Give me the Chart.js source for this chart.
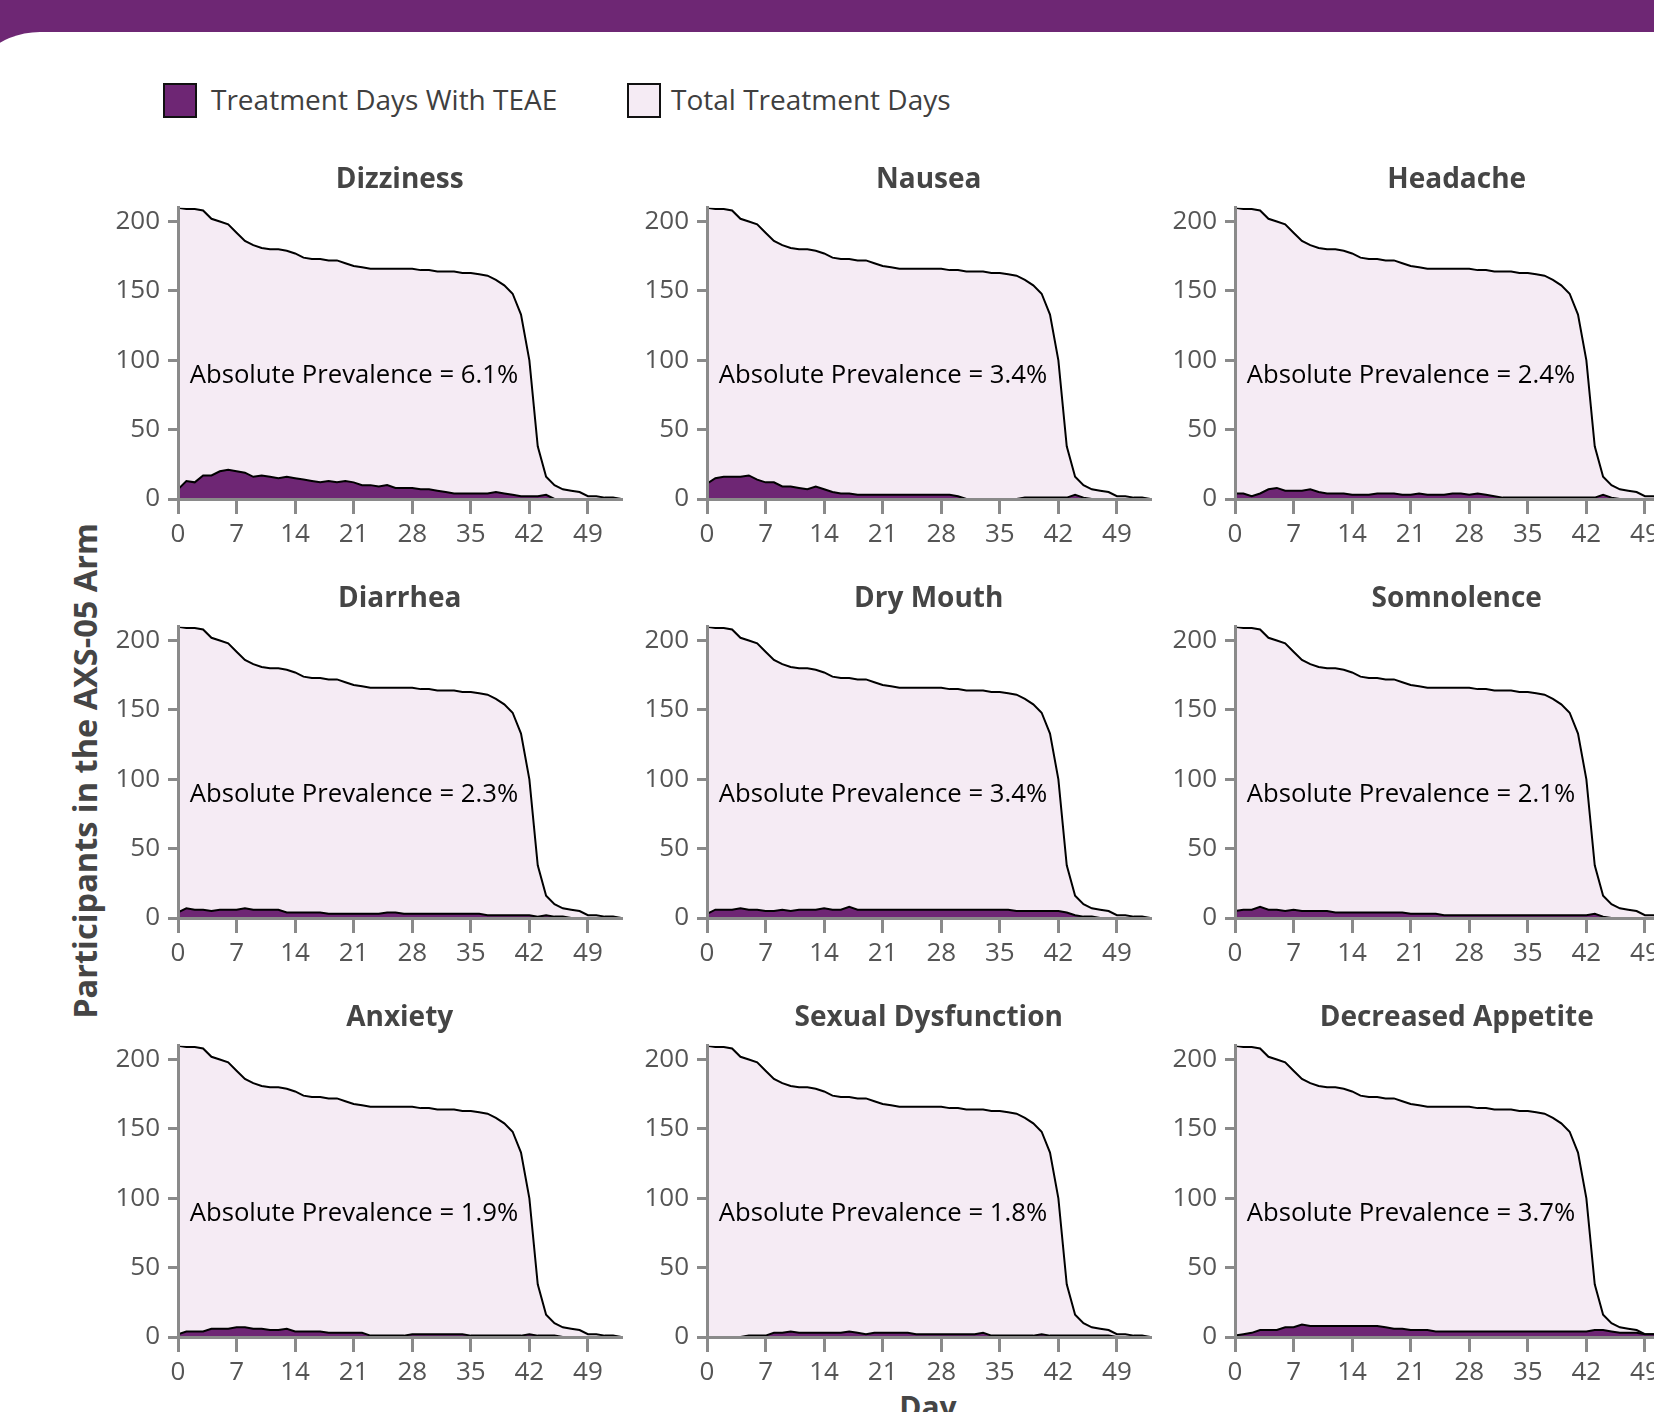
<!DOCTYPE html>
<html>
<head>
<meta charset="utf-8">
<script src="https://cdn.jsdelivr.net/npm/chart.js@4.4.1/dist/chart.umd.min.js"></script>
<style>
  body { margin: 0; width: 1654px; height: 1412px; overflow: hidden; position: relative; background: #6e2774; font-family: "Open Sans", sans-serif; }
  .sheet { position: absolute; left: -40px; top: 32px; width: 1760px; height: 1400px; background: #fff; border-top-left-radius: 80px; }
  .swatch { position: absolute; top: 83px; width: 34px; height: 35px; box-sizing: border-box; border: 2.5px solid #111; }
  .legend-text { position: absolute; top: 79px; font-size: 28px; line-height: 40px; color: #3f3f3f; white-space: nowrap; }
  .ytitle { position: absolute; left: 84px; top: 771px; transform: translate(-50%, -50%) rotate(-90deg); font-size: 32.5px; font-weight: 700; color: #454545; white-space: nowrap; }
  .xtitle { position: absolute; left: 928px; top: 1392px; transform: translateX(-50%); font-size: 30px; line-height: 30px; font-weight: 700; color: #454545; }
  canvas { position: absolute; }
</style>
</head>
<body>
<div class="sheet"></div>
<div class="swatch" style="left:163px; background:#6e2674;"></div>
<div class="legend-text" style="left:211px;">Treatment Days With TEAE</div>
<div class="swatch" style="left:627px; background:#f5ebf4;"></div>
<div class="legend-text" style="left:671px;">Total Treatment Days</div>
<div class="ytitle">Participants in the AXS-05 Arm</div>
<div class="xtitle">Day</div>

<script>
// data
const days = [0, 1, 2, 3, 4, 5, 6, 7, 8, 9, 10, 11, 12, 13, 14, 15, 16, 17, 18, 19, 20, 21, 22, 23, 24, 25, 26,
    27, 28, 29, 30, 31, 32, 33, 34, 35, 36, 37, 38, 39, 40, 41, 42, 43, 44, 45, 46, 47, 48, 49, 50, 51, 52, 53];
const dayTicks = [0, 7, 14, 21, 28, 35, 42, 49];
const countTicks = [0, 50, 100, 150, 200];

const totalDays = [210, 209, 209, 208, 202, 200, 198, 192, 186, 183, 181, 180, 180, 179, 177, 174, 173, 173,
    172, 172, 170, 168, 167, 166, 166, 166, 166, 166, 166, 165, 165, 164, 164, 164, 163, 163, 162, 161,
    158, 154, 148, 133, 100, 38, 16, 10, 7, 6, 5, 2, 2, 1, 1, 0];

const panelNames = ['Dizziness', 'Nausea', 'Headache', 'Diarrhea', 'Dry Mouth', 'Somnolence',
    'Anxiety', 'Sexual Dysfunction', 'Decreased Appetite'];
const prevalence = ['6.1%', '3.4%', '2.4%', '2.3%', '3.4%', '2.1%', '1.9%', '1.8%', '3.7%'];

const dizziness = [7, 13, 12, 17, 17, 20, 21, 20, 19, 16, 17, 16, 15, 16, 15, 14, 13, 12, 13, 12, 13, 12, 10, 10,
    9, 10, 8, 8, 8, 7, 7, 6, 5, 4, 4, 4, 4, 4, 5, 4, 3, 2, 2, 2, 3, 0, 0, 0, 0, 0, 0, 0, 0, 0];
const nausea = [11, 15, 16, 16, 16, 17, 14, 12, 12, 9, 9, 8, 7, 9, 7, 5, 4, 4, 3, 3, 3, 3, 3, 3, 3, 3, 3, 3,
    3, 3, 2, 0, 0, 0, 0, 0, 0, 0, 1, 1, 1, 1, 1, 1, 3, 1, 0, 0, 0, 0, 0, 0, 0, 0];
const headache = [4, 4, 2, 4, 7, 8, 6, 6, 6, 7, 5, 4, 4, 4, 3, 3, 3, 4, 4, 4, 3, 3, 4, 3, 3, 3, 4, 4, 3, 4,
    3, 2, 1, 1, 1, 1, 1, 1, 1, 1, 1, 1, 1, 1, 3, 1, 0, 0, 0, 0, 0, 0, 0, 0];
const diarrhea = [4, 7, 6, 6, 5, 6, 6, 6, 7, 6, 6, 6, 6, 4, 4, 4, 4, 4, 3, 3, 3, 3, 3, 3, 3, 4, 4, 3, 3, 3,
    3, 3, 3, 3, 3, 3, 3, 2, 2, 2, 2, 2, 2, 1, 2, 1, 1, 0, 0, 0, 0, 0, 0, 0];
const dryMouth = [3, 6, 6, 6, 7, 6, 6, 5, 5, 6, 5, 6, 6, 6, 7, 6, 6, 8, 6, 6, 6, 6, 6, 6, 6, 6, 6, 6, 6, 6,
    6, 6, 6, 6, 6, 6, 6, 5, 5, 5, 5, 5, 5, 4, 2, 1, 1, 0, 0, 0, 0, 0, 0, 0];
const somnolence = [5, 6, 6, 8, 6, 6, 5, 6, 5, 5, 5, 5, 4, 4, 4, 4, 4, 4, 4, 4, 4, 3, 3, 3, 3, 2, 2, 2, 2, 2,
    2, 2, 2, 2, 2, 2, 2, 2, 2, 2, 2, 2, 2, 3, 1, 0, 0, 0, 0, 0, 0, 0, 0, 0];
const anxiety = [2, 4, 4, 4, 6, 6, 6, 7, 7, 6, 6, 5, 5, 6, 4, 4, 4, 4, 3, 3, 3, 3, 3, 1, 1, 1, 1, 1, 2, 2,
    2, 2, 2, 2, 2, 1, 1, 1, 1, 1, 1, 1, 2, 1, 1, 1, 0, 0, 0, 0, 0, 0, 0, 0];
const sexualDysfunction = [0, 0, 0, 0, 0, 1, 1, 1, 3, 3, 4, 3, 3, 3, 3, 3, 3, 4, 3, 2, 3, 3, 3, 3, 3, 2, 2, 2,
    2, 2, 2, 2, 2, 3, 1, 1, 1, 1, 1, 1, 2, 1, 1, 1, 1, 1, 1, 1, 1, 0, 0, 0, 0, 0];
const decreasedAppetite = [1, 2, 3, 5, 5, 5, 7, 7, 9, 8, 8, 8, 8, 8, 8, 8, 8, 8, 7, 6, 6, 5, 5, 5, 4, 4, 4, 4,
    4, 4, 4, 4, 4, 4, 4, 4, 4, 4, 4, 4, 4, 4, 4, 5, 5, 4, 3, 3, 3, 2, 2, 1, 1, 0];

const teaeSeries = [dizziness, nausea, headache, diarrhea, dryMouth, somnolence, anxiety, sexualDysfunction, decreasedAppetite];

// layout
const colAxisX = [178, 707, 1235];
const rowAxisBottom = [499, 918, 1337];
const labelDay = 1.4;
const labelCount = 89;

const purple = '#6e2674';
const pink = '#f5ebf4';
const axisGrey = '#8a8a8a';

const prevalencePlugin = {
    id: 'prevalence',
    afterDatasetsDraw(chart, args, opts) {
        const ctx = chart.ctx;
        ctx.save();
        ctx.font = '25.7px "Open Sans"';
        ctx.fillStyle = '#000';
        ctx.textAlign = 'left';
        ctx.textBaseline = 'middle';
        ctx.fillText('Absolute Prevalence = ' + opts.value,
            chart.scales.x.getPixelForValue(labelDay), chart.scales.y.getPixelForValue(labelCount));
        ctx.restore();
    }
};

const toPoints = arr => arr.map((v, i) => ({ x: days[i], y: v }));

panelNames.forEach((name, i) => {
    const row = Math.floor(i / 3), col = i % 3;
    const canvas = document.createElement('canvas');
    canvas.width = 540;
    canvas.height = 402;
    canvas.style.left = (colAxisX[col] - 80) + 'px';
    canvas.style.top = (rowAxisBottom[row] - 352) + 'px';
    document.body.appendChild(canvas);

    new Chart(canvas, {
        type: 'line',
        data: {
            datasets: [{
                label: 'Treatment Days With TEAE',
                data: toPoints(teaeSeries[i]),
                borderColor: '#000',
                borderWidth: 2,
                backgroundColor: purple,
                fill: 'origin',
                pointRadius: 0,
                tension: 0
            }, {
                label: 'Total Treatment Days',
                data: toPoints(totalDays),
                borderColor: '#000',
                borderWidth: 2,
                backgroundColor: pink,
                fill: 'origin',
                pointRadius: 0,
                tension: 0
            }]
        },
        options: {
            responsive: false,
            animation: false,
            layout: { padding: { left: 0, right: 16.6, top: 0, bottom: 0 } },
            plugins: {
                legend: { display: false },
                tooltip: { enabled: false },
                title: {
                    display: true,
                    text: name,
                    fullSize: false,
                    color: '#454545',
                    font: { family: 'Open Sans', size: 28, weight: 'bold' },
                    padding: { top: 16, bottom: 11.1 }
                },
                prevalence: { value: prevalence[i] }
            },
            scales: {
                x: {
                    type: 'linear',
                    min: 0,
                    max: 53,
                    afterBuildTicks: s => { s.ticks = dayTicks.map(v => ({ value: v })); },
                    afterFit: s => { s.height = 50; },
                    grid: { drawOnChartArea: false, tickLength: 15, color: axisGrey, lineWidth: 3 },
                    border: { color: axisGrey, width: 3, z: 1 },
                    ticks: { font: { family: 'Open Sans', size: 26 }, color: '#555', padding: 5, maxRotation: 0, autoSkip: false }
                },
                y: {
                    min: 0,
                    max: 210,
                    afterBuildTicks: s => { s.ticks = countTicks.map(v => ({ value: v })); },
                    afterFit: s => { s.width = 80; },
                    grid: { drawOnChartArea: false, tickLength: 10, color: axisGrey, lineWidth: 3 },
                    border: { color: axisGrey, width: 3, z: 1 },
                    ticks: { font: { family: 'Open Sans', size: 26 }, color: '#555', padding: 8 }
                }
            }
        },
        plugins: [prevalencePlugin]
    });
});
</script>
</body>
</html>
